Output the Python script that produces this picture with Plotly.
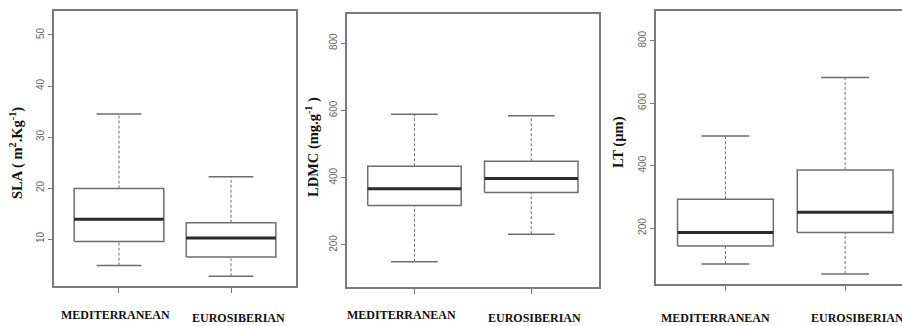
import plotly.graph_objects as go

W, H = 902, 326

categories = ["MEDITERRANEAN", "EUROSIBERIAN"]
cat_pos = [1, 2]

# SLA (m2.Kg-1)
sla_lo = [4.8, 2.7]
sla_q1 = [9.5, 6.5]
sla_med = [13.9, 10.2]
sla_q3 = [19.9, 13.2]
sla_hi = [34.5, 22.2]

# LDMC (mg.g-1)
ldmc_lo = [150, 232]
ldmc_q1 = [317, 356]
ldmc_med = [367, 398]
ldmc_q3 = [434, 449]
ldmc_hi = [589, 584]

# LT (um)
lt_lo = [85, 53]
lt_q1 = [143, 186]
lt_med = [186, 251]
lt_q3 = [292, 386]
lt_hi = [495, 682]

sla_ticks = [10, 20, 30, 40, 50]
ldmc_ticks = [200, 400, 600, 800]
lt_ticks = [200, 400, 600, 800]

titles = ["SLA ( m<sup>2</sup>.Kg<sup>-1</sup>)", "LDMC (mg.g<sup>-1</sup> )", "LT (µm)"]

panels = [
    dict(lo=sla_lo, q1=sla_q1, med=sla_med, q3=sla_q3, hi=sla_hi, ticks=sla_ticks,
         yrange=[0.8, 54.7], xdom=[54, 296], ytop=11, ybot=286, xrange=[0.42, 2.58],
         title_x=17, title_y=153, lab_shift=[-3, 7], lab_y=[315, 318]),
    dict(lo=ldmc_lo, q1=ldmc_q1, med=ldmc_med, q3=ldmc_q3, hi=ldmc_hi, ticks=ldmc_ticks,
         yrange=[74, 887], xdom=[346.7, 599], ytop=14, ybot=287.3, xrange=[0.42, 2.58],
         title_x=312, title_y=147, lab_shift=[-13, 3], lab_y=[315, 318]),
    dict(lo=lt_lo, q1=lt_q1, med=lt_med, q3=lt_q3, hi=lt_hi, ticks=lt_ticks,
         yrange=[20, 895], xdom=[656, 902], ytop=11, ybot=284.3, xrange=[0.42, 2.475],
         title_x=619, title_y=142, lab_shift=[-10, 12], lab_y=[318, 318]),
]

BOX_COL = "#6e6e6e"
FRAME_COL = "#7a7a7a"
MED_COL = "#2b2b2b"
TICK_COL = "#666666"
SERIF = "Liberation Serif"

fig = go.Figure()
annotations = []
half_box = 0.4
half_cap = 0.2

for k, p in enumerate(panels):
    sfx = "" if k == 0 else str(k + 1)
    xa, ya = "x" + sfx, "y" + sfx
    for i, xc in enumerate(cat_pos):
        q1, q3, med, lo, hi = p["q1"][i], p["q3"][i], p["med"][i], p["lo"][i], p["hi"][i]
        # whiskers (dashed)
        fig.add_trace(go.Scatter(
            x=[xc, xc, None, xc, xc], y=[q3, hi, None, lo, q1], mode="lines",
            line=dict(color=BOX_COL, width=1, dash="3px,2px"),
            xaxis=xa, yaxis=ya, showlegend=False, hoverinfo="skip"))
        # caps
        fig.add_trace(go.Scatter(
            x=[xc - half_cap, xc + half_cap, None, xc - half_cap, xc + half_cap],
            y=[hi, hi, None, lo, lo], mode="lines",
            line=dict(color=BOX_COL, width=1.5),
            xaxis=xa, yaxis=ya, showlegend=False, hoverinfo="skip"))
        # box
        fig.add_trace(go.Scatter(
            x=[xc - half_box, xc + half_box, xc + half_box, xc - half_box, xc - half_box],
            y=[q1, q1, q3, q3, q1], mode="lines", fill="toself", fillcolor="white",
            line=dict(color=BOX_COL, width=1.5),
            xaxis=xa, yaxis=ya, showlegend=False, hoverinfo="skip"))
        # median
        fig.add_trace(go.Scatter(
            x=[xc - half_box, xc + half_box], y=[med, med], mode="lines",
            line=dict(color=MED_COL, width=3),
            xaxis=xa, yaxis=ya, showlegend=False, hoverinfo="skip"))
        annotations.append(dict(
            x=xc, y=1 - p["lab_y"][i] / H, xref=xa, yref="paper", text="<b>" + categories[i] + "</b>",
            showarrow=False, xshift=p["lab_shift"][i], xanchor="center", yanchor="middle",
            font=dict(family=SERIF, size=12, color="#111111")))

    annotations.append(dict(
        x=p["title_x"] / W, y=1 - p["title_y"] / H, xref="paper", yref="paper",
        text="<b>" + titles[k] + "</b>", textangle=-90, showarrow=False,
        xanchor="center", yanchor="middle",
        font=dict(family=SERIF, size=14.5, color="#111111")))

    xdom = [p["xdom"][0] / W, min(p["xdom"][1] / W, 1.0)]
    ydom = [1 - p["ybot"] / H, 1 - p["ytop"] / H]
    fig.update_layout(**{
        "xaxis" + sfx: dict(
            domain=xdom, range=p["xrange"], tickvals=cat_pos, showticklabels=False,
            ticks="outside", ticklen=5, tickcolor=FRAME_COL, tickwidth=1,
            showline=True, linecolor=FRAME_COL, linewidth=1.5, mirror=True,
            showgrid=False, zeroline=False, anchor=ya, fixedrange=True, automargin=False),
        "yaxis" + sfx: dict(
            domain=ydom, range=p["yrange"], tickvals=p["ticks"], tickangle=-90,
            ticks="outside", ticklen=4, tickcolor=FRAME_COL, tickwidth=1,
            tickfont=dict(family="Liberation Sans", size=10, color=TICK_COL),
            showline=True, linecolor=FRAME_COL, linewidth=1.5, mirror=(k < 2),
            showgrid=False, zeroline=False, anchor=xa, fixedrange=True, automargin=False),
    })

fig.update_layout(
    width=W, height=H, margin=dict(l=0, r=0, t=0, b=0),
    paper_bgcolor="white", plot_bgcolor="white",
    annotations=annotations, showlegend=False,
)

fig.write_html("out.html", config={"displayModeBar": False},
               post_script="document.body.style.margin='0';document.body.style.overflow='hidden';")
